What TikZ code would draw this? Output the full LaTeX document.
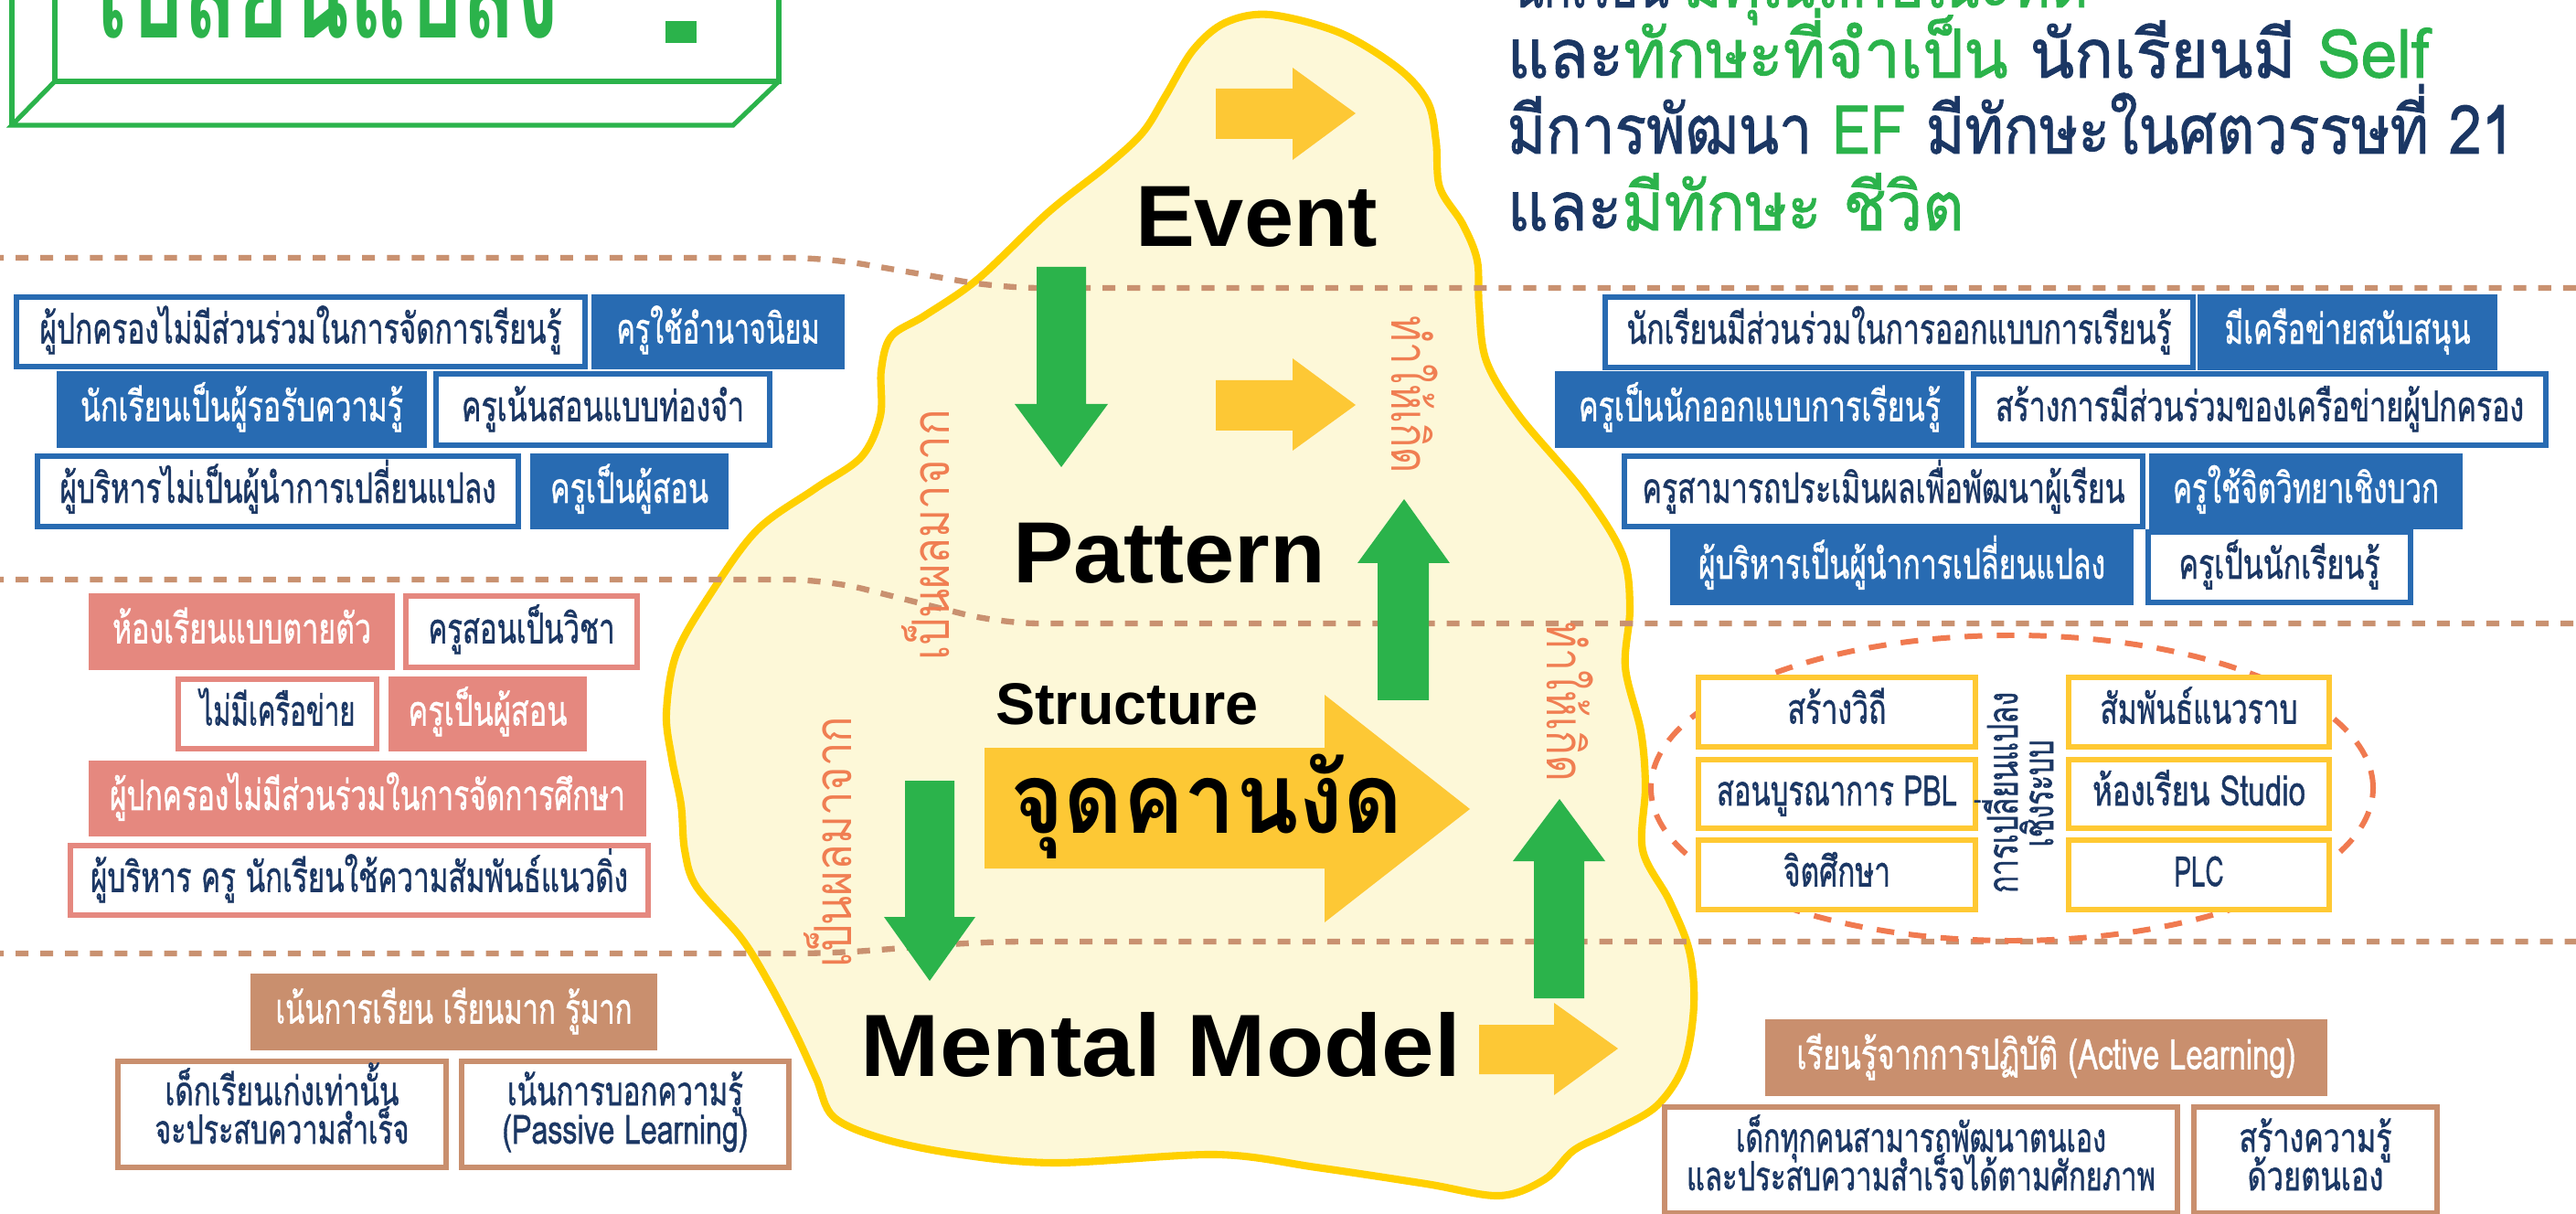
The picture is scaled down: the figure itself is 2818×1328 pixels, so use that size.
\documentclass[tikz,border=0pt]{standalone}
\usepackage{fontspec}
\usepackage{graphicx}
\newfontfamily\thai[Script=Thai]{Loma}
\newfontfamily\thaim[Script=Thai,FakeBold=1.2]{Loma}
\newfontfamily\eng{Liberation Sans}
\newlength\px \setlength\px{0.01cm}
\newcommand\fw[2]{\resizebox{#1\px}{\height}{#2}}
\definecolor{cGreen}{HTML}{2BB34B}
\definecolor{cNavy}{HTML}{1B3764}
\definecolor{cBlue}{HTML}{286BB2}
\definecolor{cPink}{HTML}{E5887F}
\definecolor{cTan}{HTML}{C98F6E}
\definecolor{cYel}{HTML}{FFC933}
\definecolor{cArrowY}{HTML}{FDC835}
\definecolor{cBlob}{HTML}{FDF8D8}
\definecolor{cBlobLine}{HTML}{FFD000}
\definecolor{cOrange}{HTML}{F07E52}
\definecolor{cEll}{HTML}{F07A50}
\definecolor{cDash}{HTML}{C99170}
\tikzset{
  box/.style={line width=1.45pt, inner sep=0pt, outer sep=0pt, text height=25\px, text depth=0pt, font=\thaim\fontsize{13}{15}\selectfont},
  sz/.style 2 args={minimum width=#1\px, minimum height=#2\px},
  wbl/.style={box, draw=cBlue, fill=white, text=cNavy},
  fbl/.style={box, draw=cBlue, fill=cBlue, text=white},
  wpk/.style={box, draw=cPink, fill=white, text=cNavy},
  fpk/.style={box, draw=cPink, fill=cPink, text=white},
  wtn/.style={box, draw=cTan, fill=white, text=cNavy, line width=1.7pt},
  ftn/.style={box, draw=cTan, fill=cTan, text=white},
  wyl/.style={box, draw=cYel, fill=white, text=cNavy, line width=1.8pt},
  tl/.style={font=\thaim\fontsize{12.5}{15}\selectfont, text=cNavy, inner sep=0pt, anchor=base},
  top/.style={font=\thaim\fontsize{21}{24}\selectfont, inner sep=0pt, anchor=base west},
  olab/.style={font=\thai\fontsize{16}{18}\selectfont, text=cOrange, inner sep=0pt, anchor=base},
  elab/.style={font=\thaim\fontsize{13}{15}\selectfont, text=cNavy, inner sep=0pt, anchor=base},
  en/.style={font=\eng\bfseries\fontsize{27}{30}\selectfont, text=black, inner sep=0pt, anchor=base},
  ttl/.style={draw=cGreen, line width=1.45pt, line join=miter},
  dl/.style={draw=cDash, line width=1.8pt, dash pattern=on 4pt off 3.7pt, rounded corners=12pt},
  ell/.style={draw=cEll, line width=1.7pt, dash pattern=on 5.5pt off 4.5pt},
  yarrow/.style={fill=cArrowY},
  garrow/.style={fill=cGreen},
}
\begin{document}
\begin{tikzpicture}[x=0.01cm, y=-0.01cm]
\useasboundingbox (0,0) rectangle (2818,1328);
\clip (0,0) rectangle (2818,1328);
\fill[white] (0,0) rectangle (2818,1328);

% title box
\draw[ttl] (60,-20) -- (60,89) -- (852,89) -- (852,-20);
\draw[ttl] (60,89) -- (13,137) -- (802,137) -- (852,89);
\draw[ttl] (13,-20) -- (13,137);
\node[font=\thai\bfseries\fontsize{45}{50}\selectfont, text=cGreen, anchor=base west, inner sep=0pt] (title) at (106,42) {\fw{505}{เปลี่ยนแปลง}};
\fill[cGreen] (728,23) rectangle (762,47);

% iceberg blob
\draw[draw=cBlobLine, fill=cBlob, line width=2.3pt] plot[smooth cycle, tension=0.55] coordinates {
(1389,16) (1466,36) (1530,75) (1562,112) (1571,155) (1575,205) (1600,245) (1616,285) (1618,335) (1626,395) (1662,455) (1733,539) (1775,607) (1783,665) (1778,730) (1795,800) (1800,860) (1797,930) (1826,985) (1848,1040) (1853,1100) (1842,1165) (1812,1210) (1765,1237) (1722,1258) (1690,1290) (1640,1308) (1560,1295) (1440,1277) (1330,1263) (1156,1272) (1051,1263) (967,1246) (912,1222) (893,1180) (870,1130) (840,1073) (810,1025) (762,970) (749,930) (745,880) (735,830) (729,780) (740,715) (777,650) (828,580) (891,535) (942,500) (963,455) (964,405) (975,368) (1012,345) (1070,305) (1147,232) (1210,182) (1250,145) (1275,105) (1305,55) (1340,25)};

% dashed level lines
\draw[dl] (-10,282) -- (904,282) -- (1095,315) -- (2830,315);
\draw[dl] (-10,634) -- (904,634) -- (1095,682) -- (2830,682);
\draw[dl] (-10,1043) -- (910,1043) -- (1079,1030) -- (2830,1030);

% dashed ellipse
\draw[ell] (2201,862) ellipse [x radius=395\px, y radius=167\px];

% top-right text
\node[top] (tr0a) at (1654,8) {\fw{171}{\textcolor{cNavy}{นักเรียน}}};
\node[top] (tr0b) at (1841,8) {\fw{443}{\textcolor{cGreen}{มีคุณลักษณะที่ดี}}};
\node[top] (tr1) at (1648,85) {\fw{1009}{\textcolor{cNavy}{และ}\textcolor{cGreen}{ทักษะที่จำเป็น} \textcolor{cNavy}{นักเรียนมี} \textcolor{cGreen}{Self}}};
\node[top] (tr2) at (1648,168) {\fw{1102}{\textcolor{cNavy}{มีการพัฒนา} \textcolor{cGreen}{EF} \textcolor{cNavy}{มีทักษะในศตวรรษที่ 21}}};
\node[top] (tr3) at (1648,252) {\fw{500}{\textcolor{cNavy}{และ}\textcolor{cGreen}{มีทักษะ ชีวิต}}};

% left blue boxes
\node[wbl, sz={622}{76}] (L1) at (329,363) {\fw{571}{ผู้ปกครองไม่มีส่วนร่วมในการจัดการเรียนรู้}};
\node[fbl, sz={271}{76}] (L2) at (785.5,363) {\fw{222}{ครูใช้อำนาจนิยม}};
\node[fbl, sz={399}{78}] (L3) at (264.5,448) {\fw{353}{นักเรียนเป็นผู้รอรับความรู้}};
\node[wbl, sz={365}{78}] (L4) at (659.5,448) {\fw{309}{ครูเน้นสอนแบบท่องจำ}};
\node[wbl, sz={526}{77}] (L5) at (304,537.5) {\fw{477}{ผู้บริหารไม่เป็นผู้นำการเปลี่ยนแปลง}};
\node[fbl, sz={211}{77}] (L6) at (688.5,537.5) {\fw{173}{ครูเป็นผู้สอน}};

% left pink boxes
\node[fpk, sz={329}{78}] (P1) at (264.5,691) {\fw{283}{ห้องเรียนแบบตายตัว}};
\node[wpk, sz={253}{78}] (P2) at (570.5,691) {\fw{204}{ครูสอนเป็นวิชา}};
\node[wpk, sz={217}{76}] (P3) at (303.5,781) {\fw{170}{ไม่มีเครือข่าย}};
\node[fpk, sz={211}{76}] (P4) at (533.5,781) {\fw{174}{ครูเป็นผู้สอน}};
\node[fpk, sz={604}{77}] (P5) at (402,873.5) {\fw{564}{ผู้ปกครองไม่มีส่วนร่วมในการจัดการศึกษา}};
\node[wpk, sz={632}{76}] (P6) at (393,963) {\fw{588}{ผู้บริหาร ครู นักเรียนใช้ความสัมพันธ์แนวดิ่ง}};

% bottom-left tan boxes
\node[ftn, sz={439}{78}] (T1) at (496.5,1107) {\fw{390}{เน้นการเรียน เรียนมาก รู้มาก}};
\node[wtn, sz={359}{116}] (T2) at (308.5,1219) {};
\node[tl] (T2a) at (308.5,1209) {\fw{256}{เด็กเรียนเก่งเท่านั้น}};
\node[tl] (T2b) at (308.5,1251) {\fw{278}{จะประสบความสำเร็จ}};
\node[wtn, sz={358}{116}] (T3) at (684,1219) {};
\node[tl] (T3a) at (684,1209) {\fw{258}{เน้นการบอกความรู้}};
\node[tl] (T3b) at (684,1251) {\fw{269}{(Passive Learning)}};

% right blue boxes
\node[wbl, sz={643}{77}] (R1) at (2077.5,363.5) {\fw{596}{นักเรียนมีส่วนร่วมในการออกแบบการเรียนรู้}};
\node[fbl, sz={322}{77}] (R2) at (2568,363.5) {\fw{269}{มีเครือข่ายสนับสนุน}};
\node[fbl, sz={442}{78}] (R3) at (1925,448) {\fw{396}{ครูเป็นนักออกแบบการเรียนรู้}};
\node[wbl, sz={626}{78}] (R4) at (2472,448) {\fw{578}{สร้างการมีส่วนร่วมของเครือข่ายผู้ปกครอง}};
\node[wbl, sz={567}{77}] (R5) at (2060.5,537.5) {\fw{528}{ครูสามารถประเมินผลเพื่อพัฒนาผู้เรียน}};
\node[fbl, sz={337}{77}] (R6) at (2522.5,537.5) {\fw{291}{ครูใช้จิตวิทยาเชิงบวก}};
\node[fbl, sz={501}{77}] (R7) at (2080.5,620.5) {\fw{445}{ผู้บริหารเป็นผู้นำการเปลี่ยนแปลง}};
\node[wbl, sz={287}{77}] (R8) at (2493.5,620.5) {\fw{220}{ครูเป็นนักเรียนรู้}};

% right yellow boxes
\node[wyl, sz={303}{76}] (Y1) at (2009.5,779) {\fw{108}{สร้างวิถี}};
\node[wyl, sz={303}{75}] (Y2) at (2009.5,868.5) {\fw{263}{สอนบูรณาการ PBL}};
\node[wyl, sz={303}{76}] (Y3) at (2009.5,957) {\fw{117}{จิตศึกษา}};
\node[wyl, sz={285}{76}] (Y4) at (2405.5,779) {\fw{216}{สัมพันธ์แนวราบ}};
\node[wyl, sz={285}{75}] (Y5) at (2405.5,868.5) {\fw{233}{ห้องเรียน Studio}};
\node[wyl, sz={285}{76}] (Y6) at (2405.5,957) {\fw{54}{PLC}};
\node[elab, rotate=90] (E1) at (2207,867) {\fw{220}{การเปลี่ยนแปลง}};
\node[elab, rotate=90] (E2) at (2246,868) {\fw{117}{เชิงระบบ}};

% bottom-right tan boxes
\node[ftn, sz={609}{78}] (T4) at (2238.5,1157) {\fw{546}{เรียนรู้จากการปฏิบัติ (Active Learning)}};
\node[wtn, sz={561}{116}] (T5) at (2101.5,1269) {};
\node[tl] (T5a) at (2101.5,1260) {\fw{405}{เด็กทุกคนสามารถพัฒนาตนเอง}};
\node[tl] (T5b) at (2101.5,1302) {\fw{513}{และประสบความสำเร็จได้ตามศักยภาพ}};
\node[wtn, sz={266}{116}] (T6) at (2533,1269) {};
\node[tl] (T6a) at (2533,1260) {\fw{167}{สร้างความรู้}};
\node[tl] (T6b) at (2533,1302) {\fw{149}{ด้วยตนเอง}};

% yellow arrows
\fill[yarrow] (1330,97) -- (1414,97) -- (1414,74) -- (1483,124) -- (1414,175) -- (1414,152) -- (1330,152) -- cycle;
\fill[yarrow] (1330,416) -- (1414,416) -- (1414,392) -- (1483,443) -- (1414,493) -- (1414,471) -- (1330,471) -- cycle;
\fill[yarrow] (1077,818) -- (1449,818) -- (1449,760) -- (1608,885) -- (1449,1009) -- (1449,950) -- (1077,950) -- cycle;
\fill[yarrow] (1618,1121) -- (1700,1121) -- (1700,1097) -- (1770,1147) -- (1700,1198) -- (1700,1175) -- (1618,1175) -- cycle;

% green arrows
\fill[garrow] (1134,292) -- (1188,292) -- (1188,442) -- (1212,442) -- (1161,511) -- (1110,442) -- (1134,442) -- cycle;
\fill[garrow] (1507,766) -- (1507,616) -- (1485,616) -- (1536,546) -- (1586,616) -- (1563,616) -- (1563,766) -- cycle;
\fill[garrow] (990,854) -- (1044,854) -- (1044,1003) -- (1067,1003) -- (1017,1073) -- (967,1003) -- (990,1003) -- cycle;
\fill[garrow] (1678,1092) -- (1678,942) -- (1655,942) -- (1706,874) -- (1756,942) -- (1733,942) -- (1733,1092) -- cycle;

% level names
\node[en] (event) at (1374.5,270) {\fw{265}{Event}};
\node[en] (pattern) at (1279,638) {\fw{342}{Pattern}};
\node[en, font=\eng\bfseries\fontsize{18.3}{20}\selectfont] (structure) at (1233,793) {\fw{288}{Structure}};
\node[font=\thai\bfseries\fontsize{30.5}{33}\selectfont, inner sep=0pt, anchor=base] (lever) at (1320,911) {\fw{430}{จุดคานงัด}};
\node[en, font=\eng\bfseries\fontsize{27.5}{30}\selectfont] (mental) at (1270,1177) {\fw{656}{Mental Model}};

% orange rotated labels
\node[olab, rotate=90] (from1) at (1038,585.5) {\fw{275}{เป็นผลมาจาก}};
\node[olab, rotate=90] (from2) at (931,921) {\fw{274}{เป็นผลมาจาก}};
\node[olab, rotate=-90] (cause1) at (1522,432) {\fw{172}{ทำให้เกิด}};
\node[olab, rotate=-90] (cause2) at (1692,767.5) {\fw{175}{ทำให้เกิด}};
\end{tikzpicture}
\end{document}
